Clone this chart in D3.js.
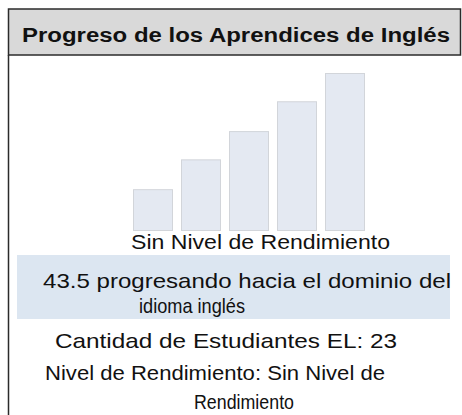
<!DOCTYPE html>
<html>
<head>
<meta charset="utf-8">
<script src="https://cdn.jsdelivr.net/npm/d3@7"></script>
<style>
  body { margin: 0; background: #fff; }
  svg text { font-family: "Liberation Sans", Arial, sans-serif; fill: #111; }
</style>
</head>
<body>
<div id="chart"></div>
<script>
// chart data
let title = "Progreso de los Aprendices de Inglés";
let levels = ["L1", "L2", "L3", "L4", "L5"];
let levelValues = [26, 45, 63, 82, 100];
let levelLabel = "Sin Nivel de Rendimiento";
let progressLines = ["43.5 progresando hacia el dominio del", "idioma inglés"];
let countLine = "Cantidad de Estudiantes EL: 23";
let levelLines = ["Nivel de Rendimiento: Sin Nivel de", "Rendimiento"];

function drawChart(w, h) {

    let svg = d3.select("#chart")
        .append("svg")
        .attr("width", w)
        .attr("height", h);

    // header box
    svg.append("rect")
        .attr("x", 8.5)
        .attr("y", 9)
        .attr("width", 452)
        .attr("height", 46)
        .attr("fill", "#d9d9d9")
        .attr("stroke", "#2b2b2b")
        .attr("stroke-width", 1.5);

    svg.append("line")
        .attr("x1", 8.5).attr("x2", 8.5)
        .attr("y1", 55).attr("y2", h)
        .attr("stroke", "#2b2b2b")
        .attr("stroke-width", 1.5);

    svg.append("text")
        .attr("x", 22)
        .attr("y", 42)
        .attr("textLength", 428)
        .attr("lengthAdjust", "spacingAndGlyphs")
        .style("font-size", "20px")
        .style("font-weight", "bold")
        .text(title);

    let xScale = d3.scaleBand()
        .domain(levels)
        .range([125, 373])
        .padding(1 / 6);

    let yScale = d3.scaleLinear()
        .domain([0, 100])
        .range([230, 73]);

    svg.selectAll(".bar")
        .data(levelValues)
        .enter()
        .append("rect")
        .attr("class", "bar")
        .attr("x", function (d, i) {
            return xScale(levels[i]) + 0.5;
        })
        .attr("y", function (d) {
            return yScale(d) + 0.5;
        })
        .attr("width", xScale.bandwidth() - 1)
        .attr("height", function (d) {
            return yScale(0) - yScale(d);
        })
        .attr("fill", "#e4e9f2")
        .attr("stroke", "#d2d5da")
        .attr("stroke-width", 1);

    // highlighted band
    svg.append("rect")
        .attr("x", 17)
        .attr("y", 255)
        .attr("width", 433)
        .attr("height", 64)
        .attr("fill", "#dce6f1");

    let lines = [
        { t: levelLabel, x: 131, y: 249, len: 259 },
        { t: progressLines[0], x: 43, y: 288, len: 408 },
        { t: progressLines[1], x: 139, y: 313, len: 106 },
        { t: countLine, x: 55, y: 348, len: 342 },
        { t: levelLines[0], x: 45, y: 380, len: 340 },
        { t: levelLines[1], x: 194, y: 409, len: 100 }
    ];

    svg.selectAll(".line")
        .data(lines)
        .enter()
        .append("text")
        .attr("class", "line")
        .attr("x", function (d) { return d.x; })
        .attr("y", function (d) { return d.y; })
        .attr("textLength", function (d) { return d.len; })
        .attr("lengthAdjust", "spacingAndGlyphs")
        .style("font-size", "21px")
        .text(function (d) { return d.t; });
}

drawChart(462, 415);
</script>
</body>
</html>
